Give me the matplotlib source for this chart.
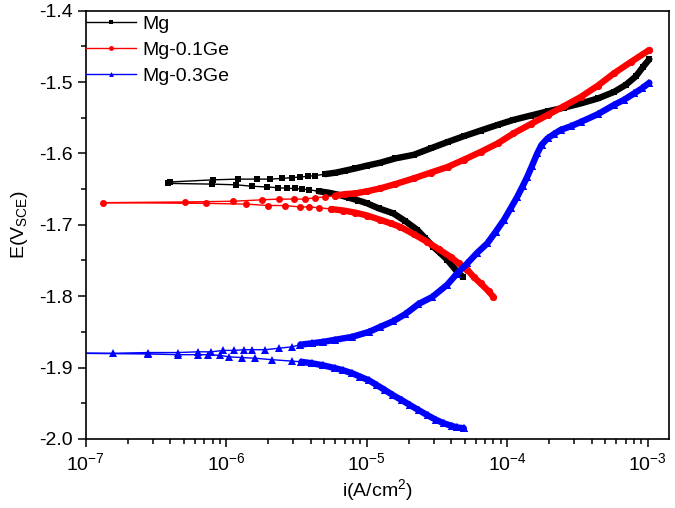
import matplotlib
matplotlib.use("Agg")
import matplotlib.pyplot as plt
from matplotlib.ticker import MultipleLocator, LogLocator

plt.rcParams["font.family"] = ["Liberation Sans", "DejaVu Sans"]
plt.rcParams["mathtext.fontset"] = "custom"
plt.rcParams["mathtext.rm"] = "Liberation Sans"
plt.rcParams["mathtext.it"] = "Liberation Sans:italic"
plt.rcParams["mathtext.default"] = "regular"

# Mg: cathodic branch (far end -> Ecorr), points around Ecorr, anodic branch
MG_CATH_I = [4.84e-5, 4.42e-5, 3.75e-5, 3.36e-5, 2.99e-5, 2.62e-5, 2.29e-5, 1.89e-5,
             1.55e-5, 1.22e-5, 1.01e-5, 8.75e-6, 7.45e-6, 6.32e-6, 5.37e-6, 4.55e-6]
MG_CATH_E = [-1.773, -1.766, -1.749, -1.740, -1.731, -1.719, -1.707, -1.695,
             -1.684, -1.677, -1.670, -1.666, -1.662, -1.658, -1.655, -1.653]
MG_NEAR_I = [3.91e-6, 3.47e-6, 3.07e-6, 2.71e-6, 2.34e-6, 1.95e-6, 1.53e-6, 1.18e-6,
             7.9e-7, 3.86e-7, 3.99e-7, 8.1e-7, 1.22e-6, 1.66e-6, 2.06e-6, 2.50e-6,
             2.94e-6, 3.37e-6, 3.83e-6, 4.31e-6]
MG_NEAR_E = [-1.651, -1.650, -1.649, -1.649, -1.648, -1.647, -1.646, -1.644,
             -1.643, -1.642, -1.640, -1.637, -1.636, -1.636, -1.636, -1.635,
             -1.634, -1.633, -1.632, -1.631]
MG_ANOD_I = [5.08e-6, 6.00e-6, 7.07e-6, 8.32e-6, 1.01e-5, 1.25e-5, 1.60e-5, 2.16e-5,
             2.85e-5, 3.77e-5, 4.90e-5, 6.47e-5, 8.57e-5, 1.11e-4, 1.47e-4, 1.95e-4,
             2.53e-4, 3.34e-4, 4.43e-4, 5.75e-4, 7.00e-4, 8.26e-4, 9.27e-4, 1.03e-3]
MG_ANOD_E = [-1.629, -1.627, -1.624, -1.621, -1.617, -1.613, -1.607, -1.602,
             -1.593, -1.584, -1.576, -1.568, -1.560, -1.553, -1.547, -1.541,
             -1.536, -1.530, -1.523, -1.514, -1.504, -1.492, -1.479, -1.468]

# Mg-0.1Ge
GE1_CATH_I = [7.98e-5, 7.38e-5, 6.47e-5, 5.78e-5, 5.21e-5, 4.52e-5, 3.96e-5, 3.25e-5,
              2.70e-5, 2.16e-5, 1.74e-5, 1.48e-5, 1.25e-5, 1.01e-5, 8.32e-6, 6.84e-6,
              5.61e-6]
GE1_CATH_E = [-1.801, -1.793, -1.782, -1.773, -1.763, -1.754, -1.745, -1.734,
              -1.724, -1.713, -1.703, -1.698, -1.693, -1.687, -1.683, -1.680,
              -1.678]
GE1_NEAR_I = [4.55e-6, 3.91e-6, 3.37e-6, 2.61e-6, 2.00e-6, 1.38e-6, 7.2e-7, 1.33e-7,
              5.05e-7, 1.12e-6, 1.80e-6, 2.36e-6, 3.02e-6, 3.67e-6, 4.31e-6, 5.08e-6]
GE1_NEAR_E = [-1.676, -1.675, -1.675, -1.673, -1.673, -1.671, -1.670, -1.669,
              -1.668, -1.667, -1.665, -1.664, -1.664, -1.664, -1.662, -1.661]
GE1_ANOD_I = [6.00e-6, 7.07e-6, 8.32e-6, 1.01e-5, 1.25e-5, 1.60e-5, 2.16e-5, 2.85e-5,
              3.77e-5, 4.90e-5, 6.47e-5, 8.57e-5, 1.11e-4, 1.47e-4, 1.95e-4, 2.53e-4,
              3.34e-4, 4.43e-4, 5.75e-4, 7.60e-4, 1.03e-3]
GE1_ANOD_E = [-1.659, -1.657, -1.656, -1.653, -1.649, -1.643, -1.635, -1.627,
              -1.619, -1.609, -1.598, -1.586, -1.572, -1.559, -1.546, -1.534,
              -1.521, -1.505, -1.488, -1.472, -1.455]

# Mg-0.3Ge
GE3_CATH_I = [4.92e-5, 4.43e-5, 4.07e-5, 3.53e-5, 3.10e-5, 2.72e-5, 2.36e-5, 2.05e-5,
              1.79e-5, 1.55e-5, 1.36e-5, 1.19e-5, 1.04e-5, 9.04e-6, 7.89e-6, 6.84e-6,
              6.00e-6, 4.92e-6, 4.08e-6, 3.43e-6]
GE3_CATH_E = [-1.985, -1.984, -1.982, -1.978, -1.973, -1.967, -1.960, -1.953,
              -1.946, -1.939, -1.932, -1.925, -1.918, -1.913, -1.908, -1.904,
              -1.901, -1.897, -1.894, -1.892]
GE3_NEAR_I = [2.94e-6, 2.12e-6, 1.61e-6, 1.29e-6, 1.04e-6, 9.08e-7, 7.48e-7, 6.35e-7,
              4.53e-7, 2.79e-7, 8.0e-8, 1.57e-7, 2.79e-7, 4.53e-7, 6.25e-7, 7.82e-7,
              9.57e-7, 1.13e-6, 1.35e-6, 1.53e-6, 1.90e-6, 2.36e-6, 2.94e-6]
GE3_NEAR_E = [-1.891, -1.889, -1.887, -1.886, -1.885, -1.883, -1.882, -1.882,
              -1.882, -1.881, -1.880, -1.880, -1.879, -1.879, -1.878, -1.878,
              -1.876, -1.876, -1.875, -1.875, -1.875, -1.873, -1.871]
GE3_ANOD_I = [3.37e-6, 4.08e-6, 4.92e-6, 6.00e-6, 7.89e-6, 1.04e-5, 1.25e-5, 1.55e-5,
              1.89e-5, 2.34e-5, 2.94e-5, 3.75e-5, 4.37e-5, 5.21e-5, 6.07e-5, 7.23e-5,
              8.28e-5, 9.51e-5, 1.06e-4, 1.18e-4, 1.29e-4, 1.39e-4, 1.50e-4, 1.64e-4,
              1.76e-4, 1.94e-4, 2.15e-4, 2.41e-4, 2.84e-4, 3.34e-4, 4.43e-4, 5.78e-4,
              6.78e-4, 8.02e-4, 9.10e-4, 1.03e-3]
GE3_ANOD_E = [-1.868, -1.866, -1.864, -1.861, -1.857, -1.850, -1.843, -1.835,
              -1.825, -1.811, -1.801, -1.784, -1.769, -1.754, -1.740, -1.726,
              -1.710, -1.693, -1.677, -1.661, -1.646, -1.633, -1.618, -1.600,
              -1.588, -1.579, -1.573, -1.567, -1.562, -1.556, -1.545, -1.532,
              -1.525, -1.516, -1.509, -1.501]

SERIES = [
    ("Mg", MG_CATH_I, MG_CATH_E, MG_NEAR_I, MG_NEAR_E, MG_ANOD_I, MG_ANOD_E, "black", "s", 4.5),
    ("Mg-0.1Ge", GE1_CATH_I, GE1_CATH_E, GE1_NEAR_I, GE1_NEAR_E, GE1_ANOD_I, GE1_ANOD_E, "#ff0000", "o", 5),
    ("Mg-0.3Ge", GE3_CATH_I, GE3_CATH_E, GE3_NEAR_I, GE3_NEAR_E, GE3_ANOD_I, GE3_ANOD_E, "#0000ff", "^", 5.5),
]

fig = plt.figure(figsize=(6.75, 5.08), dpi=100)
ax = fig.add_axes([0.127, 0.136, 0.864, 0.843])

for label, ci, ce, ni, ne, ai, ae, colour, marker, ms in SERIES:
    i_all = ci + ni + ai
    e_all = ce + ne + ae
    ax.plot(i_all, e_all, color=colour, lw=1, marker=marker, ms=ms,
            markeredgewidth=0, label=label)
    # dense parts of the scan: markers merge into a thick trace
    for bi, be in ((ci, ce), (ai, ae)):
        ax.plot(bi, be, color=colour, lw=4.6, marker=marker, ms=ms,
                markeredgewidth=0, solid_capstyle="round")

ax.set_xscale("log")
ax.set_xlim(1e-7, 1.42e-3)
ax.set_ylim(-2.0, -1.4)
ax.yaxis.set_major_locator(MultipleLocator(0.1))
ax.yaxis.set_minor_locator(MultipleLocator(0.05))
ax.xaxis.set_major_locator(LogLocator(base=10, numticks=10))
ax.xaxis.set_minor_locator(LogLocator(base=10, subs=range(2, 10), numticks=20))
ax.yaxis.set_major_formatter(matplotlib.ticker.FormatStrFormatter("%.1f"))

ax.tick_params(which="both", direction="out", width=1.1, labelsize=14, top=False, right=False)
ax.tick_params(which="major", length=6)
ax.tick_params(which="minor", length=3.5)
for spine in ax.spines.values():
    spine.set_linewidth(1.2)

ax.set_xlabel("i(A/cm$^2$)", fontsize=14, labelpad=2)
ax.set_ylabel("E(V$_{SCE}$)", fontsize=14, labelpad=6)

leg = ax.legend(loc="upper left", bbox_to_anchor=(0, 0.99), borderaxespad=0, borderpad=0,
                frameon=False, fontsize=14, handlelength=2.6, handletextpad=0.3,
                labelspacing=0.45)
for h in leg.legend_handles:
    h.set_markersize(3.5)

fig.savefig("out.png", dpi=100)
